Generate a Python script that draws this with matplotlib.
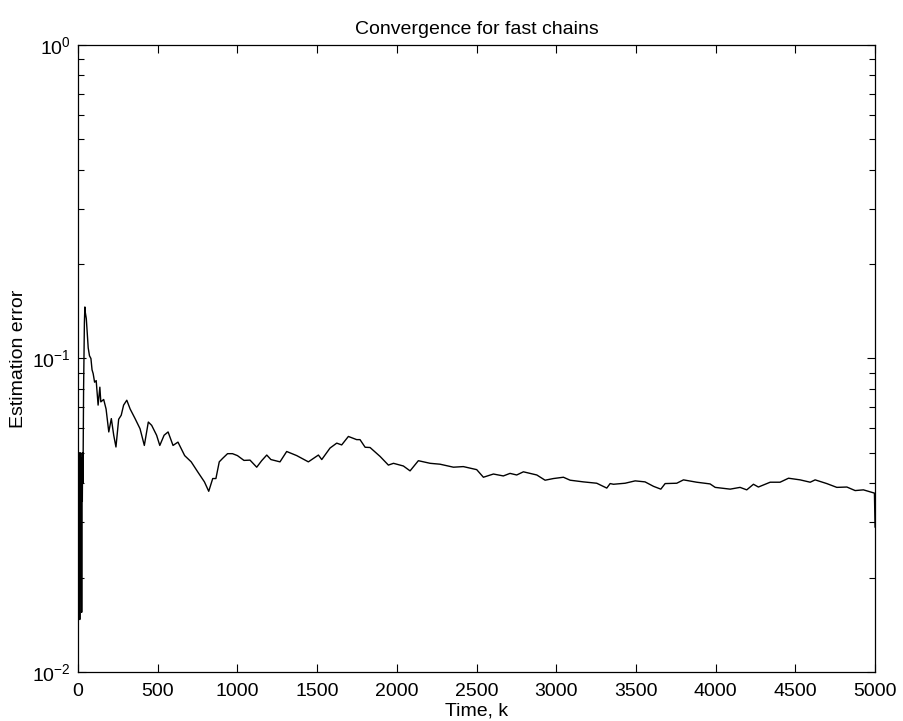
import numpy as np
import matplotlib
matplotlib.use('Agg')
import matplotlib.pyplot as plt
from matplotlib.ticker import LogLocator, FixedLocator, NullFormatter

# estimation error of the fast chains vs. time step k
time_k = [1, 3, 5, 7, 9, 11, 13, 15, 17, 19, 21, 23, 25, 27, 29, 31, 33,
          35, 37, 40, 43, 46, 52, 58, 64, 72, 81, 88, 95, 104, 114, 126,
          137, 143, 161, 176, 193, 209, 224, 238, 255, 271, 286, 306, 327,
          358, 389, 416, 441, 462, 493, 513, 540, 565, 596, 627, 669, 710,
          752, 793, 820, 845, 865, 886, 907, 938, 969, 1000, 1041, 1079,
          1121, 1152, 1184, 1210, 1267, 1309, 1372, 1445, 1508, 1529, 1581,
          1623, 1654, 1696, 1748, 1769, 1801, 1832, 1895, 1947, 1979, 2041,
          2083, 2135, 2209, 2271, 2355, 2417, 2501, 2543, 2606, 2668, 2710,
          2752, 2794, 2878, 2930, 2982, 3045, 3087, 3170, 3254, 3317, 3338,
          3359, 3432, 3495, 3557, 3610, 3656, 3683, 3756, 3798, 3881, 3965,
          3997, 4091, 4153, 4195, 4237, 4268, 4342, 4404, 4457, 4530, 4593,
          4624, 4697, 4760, 4823, 4875, 4927, 4996, 5000]
est_error = [0.050, 0.020, 0.045, 0.016, 0.050, 0.0147, 0.040, 0.022,
             0.050, 0.030, 0.048, 0.0155, 0.045, 0.035, 0.050, 0.040, 0.060,
             0.080, 0.100, 0.130, 0.146, 0.140, 0.134, 0.120, 0.108, 0.102,
             0.100, 0.092, 0.0895, 0.084, 0.085, 0.071, 0.081, 0.0727, 0.074,
             0.069, 0.0583, 0.0643, 0.0569, 0.0522, 0.064, 0.0659, 0.071,
             0.0736, 0.069, 0.0643, 0.0597, 0.0528, 0.0627, 0.0612, 0.0569,
             0.0528, 0.0569, 0.0583, 0.0528, 0.0541, 0.049, 0.0468, 0.0434,
             0.0404, 0.0377, 0.0414, 0.0414, 0.0468, 0.048, 0.0497, 0.0497,
             0.049, 0.0473, 0.0474, 0.045, 0.0472, 0.0492, 0.0476, 0.0468,
             0.0505, 0.049, 0.0468, 0.0492, 0.0476, 0.0518, 0.0537, 0.053,
             0.0564, 0.0551, 0.0551, 0.0521, 0.052, 0.0487, 0.0457, 0.0463,
             0.0454, 0.0438, 0.0472, 0.0463, 0.046, 0.045, 0.0452, 0.0442,
             0.0418, 0.0428, 0.0422, 0.043, 0.0425, 0.0435, 0.0425, 0.0409,
             0.0414, 0.0418, 0.0409, 0.0404, 0.040, 0.0386, 0.0399, 0.0397,
             0.040, 0.0407, 0.0404, 0.0391, 0.0383, 0.0399, 0.040, 0.041,
             0.0403, 0.0398, 0.0388, 0.0383, 0.0388, 0.0381, 0.0397, 0.0389,
             0.0403, 0.0403, 0.0415, 0.041, 0.0403, 0.041, 0.0399, 0.0388,
             0.0389, 0.0379, 0.0381, 0.0372, 0.029]
x_ticks = [0, 500, 1000, 1500, 2000, 2500, 3000, 3500, 4000, 4500, 5000]

plt.rcParams['font.family'] = ['Liberation Sans', 'DejaVu Sans']
plt.rcParams['font.size'] = 14

fig = plt.figure(figsize=(9.04, 7.21), dpi=100)
ax = fig.add_axes([0.0863, 0.068, 0.8817, 0.8696])

ax.semilogy(time_k, est_error, color='black', lw=1.0)

ax.set_xlim(0, 5000)
ax.set_ylim(1e-2, 1e0)
ax.xaxis.set_major_locator(FixedLocator(x_ticks))
ax.yaxis.set_major_locator(LogLocator(base=10, numticks=5))
ax.yaxis.set_minor_locator(LogLocator(base=10, subs=np.arange(2, 10), numticks=20))
ax.yaxis.set_minor_formatter(NullFormatter())

# matlab-style box with inward ticks on every side
ax.tick_params(which='both', direction='in', top=True, right=True, width=0.8)
ax.tick_params(which='major', length=6)
ax.tick_params(axis='x', which='major', pad=8)
ax.tick_params(axis='y', which='major', pad=5)
ax.tick_params(which='minor', length=4)
for sp in ax.spines.values():
    sp.set_linewidth(0.9)

ax.set_title('Convergence for fast chains', fontsize=14, pad=8)
ax.set_xlabel('Time, k', fontsize=14, labelpad=2)
ax.set_ylabel('Estimation error', fontsize=14, labelpad=4)

fig.savefig('out.png', dpi=100)
